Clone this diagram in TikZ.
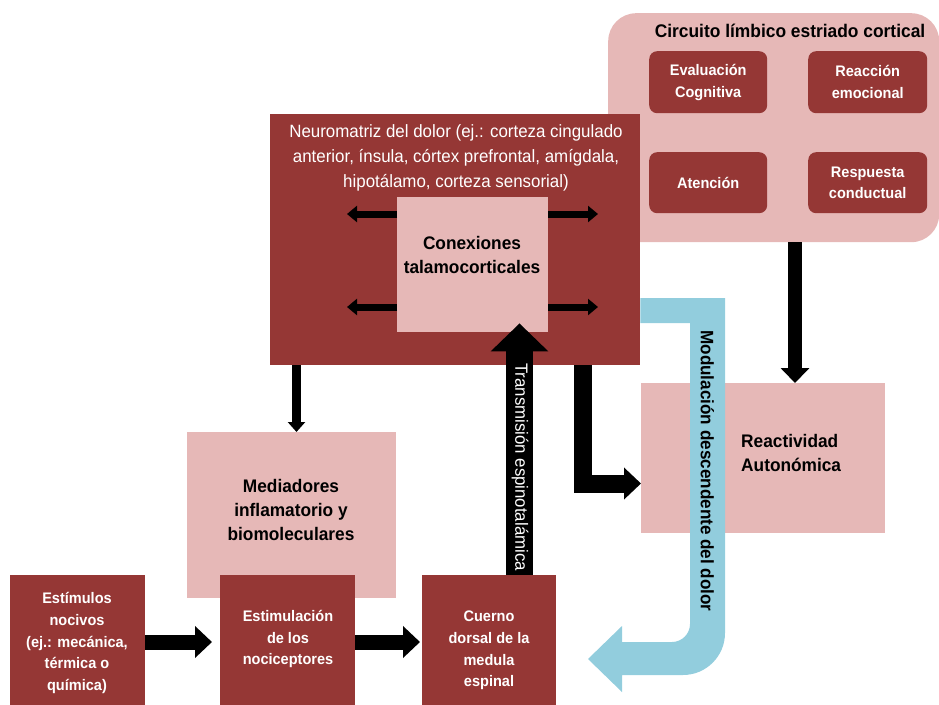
\documentclass[tikz,border=0pt]{standalone}
\usepackage{fontspec}
\setmainfont{Liberation Sans}[FakeStretch=0.95]
\usetikzlibrary{arrows.meta,calc}
\definecolor{dred}{RGB}{149,55,53}
\definecolor{lpink}{RGB}{230,184,183}
\definecolor{lblue}{RGB}{146,205,221}
\begin{document}
\begin{tikzpicture}[x=1pt,y=-1pt,
  dbox/.style={fill=dred, draw=none, inner sep=0pt, anchor=north west},
  pbox/.style={fill=lpink, draw=none, inner sep=0pt, anchor=north west},
  wtxt/.style={text=white, font=\bfseries\fontsize{15.3}{21.7}\selectfont, align=center, inner sep=0pt},
  btxt/.style={text=black, font=\bfseries\fontsize{18.2}{24}\selectfont, align=center, inner sep=0pt},
  bigarrow/.style={draw=black, line width=15pt, -{Triangle[length=17pt,width=31pt]}},
  smallarrow/.style={draw=black, line width=7pt, -{Triangle[length=10pt,width=16pt]}}]
\useasboundingbox (0,0) rectangle (939,704);
% limbic circuit
\node[pbox, rounded corners=28pt, minimum width=331pt, minimum height=229pt] (limb) at (608,13) {};
\node[text=black, font=\bfseries\fontsize{18.3}{22}\selectfont, inner sep=0pt] (limbt) at (790,31) {Circuito límbico estriado cortical};
\node[dbox, rounded corners=8pt, minimum width=118pt, minimum height=62pt] (eval) at (649,51) {};
\node[wtxt] (evalt) at (eval.center) {Evaluación\\Cognitiva};
\node[dbox, rounded corners=8pt, minimum width=119pt, minimum height=62pt] (reac) at (808,51) {};
\node[wtxt] (react) at (reac.center) {Reacción\\emocional};
\node[dbox, rounded corners=8pt, minimum width=118pt, minimum height=61pt] (aten) at (649,152) {};
\node[wtxt] (atent) at (aten.center) {Atención};
\node[dbox, rounded corners=8pt, minimum width=119pt, minimum height=61pt] (resp) at (808,152) {};
\node[wtxt] (respt) at (resp.center) {Respuesta\\conductual};
% neuromatrix
\node[dbox, minimum width=370pt, minimum height=251pt] (neuro) at (270,114) {};
\node[text=white, font=\fontsize{17.8}{25}\selectfont, align=center, inner sep=0pt] (neurot) at (456,158) {Neuromatriz del dolor (ej.: corteza cingulado\\anterior, ínsula, córtex prefrontal, amígdala,\\hipotálamo, corteza sensorial)};
\node[pbox, minimum width=151pt, minimum height=135pt] (conex) at (397,197) {};
\node[btxt] (conext) at (472,255) {Conexiones\\talamocorticales};
\coordinate (la) at (347,214);
\coordinate (lb) at (347,307);
\coordinate (ra) at (598,214);
\coordinate (rb) at (598,307);
\draw[smallarrow] (conex.west |- la) -- (la);
\draw[smallarrow] (conex.west |- lb) -- (lb);
\draw[smallarrow] (conex.east |- ra) -- (ra);
\draw[smallarrow] (conex.east |- rb) -- (rb);
% mediators
\node[pbox, minimum width=209pt, minimum height=166pt] (med) at (187,432) {};
\node[btxt] (medt) at (291,510) {Mediadores\\inflamatorio y\\biomoleculares};
% reactivity
\node[pbox, minimum width=244pt, minimum height=150pt] (react) at (641,383) {};
\node[btxt, align=left, anchor=west] (reactt) at (741,453) {Reactividad\\Autonómica};
% bottom row
\node[dbox, minimum width=135pt, minimum height=135pt] (est) at (10,575) {};
\node[wtxt] (estt) at (77,643) {Estímulos\\nocivos\\(ej.: mecánica,\\térmica o\\química)};
\node[dbox, minimum width=135pt, minimum height=135pt] (estim) at (220,575) {};
\node[wtxt] (estimt) at (288,639) {Estimulación\\de los\\nociceptores};
\node[dbox, minimum width=134pt, minimum height=135pt] (cuerno) at (422,575) {};
\node[wtxt] (cuernot) at (489,650.5) {Cuerno\\dorsal de la\\medula\\espinal};
% arrows bottom
\coordinate (ay) at (0,642);
\draw[bigarrow, shorten >=8pt] (est.east |- ay) -- (estim.west |- ay);
\draw[bigarrow, shorten >=2pt] (estim.east |- ay) -- (cuerno.west |- ay);
% transmission
\coordinate (tx) at (519.5,0);
\draw[draw=black, line width=27pt, -{Triangle[length=28pt,width=56pt]}, shorten >=-9pt] (cuerno.north -| tx) -- (conex.south -| tx);
\node[text=white, rotate=-90, font=\fontsize{17.7}{20}\selectfont, inner sep=0pt] (transt) at (520,467) {Transmisión espinotalámica};
% neuro -> mediators
\coordinate (mx) at (296.5,0);
\draw[draw=black, line width=9pt, -{Triangle[length=10pt,width=17pt]}] (neuro.south -| mx) -- (med.north -| mx);
% neuro -> reactivity (elbow)
\coordinate (ex) at (582.5,0);
\coordinate (ey) at (0,483.5);
\draw[draw=black, line width=18pt, -{Triangle[length=17pt,width=31pt]}] (neuro.south -| ex) |- (react.west |- ey);
% limbic -> reactivity
\coordinate (lx) at (795,0);
\draw[draw=black, line width=14pt, -{Triangle[length=15pt,width=28pt]}] (limb.south -| lx) -- (react.north -| lx);
% descending modulation
\fill[lblue] (neuro.east |- 0,298) -- (725,298) -- (725,633) .. controls (725,656.2) and (706.2,675) .. (683,675) -- (622,675) -- (622,692) -- (588,659) -- (622,626) -- (622,642) -- (672,642) .. controls (681.9,642) and (690,633.9) .. (690,624) -- (690,323) -- (neuro.east |- 0,323) -- cycle;
\node[text=black, rotate=-90, font=\bfseries\fontsize{18}{20}\selectfont, inner sep=0pt] (modt) at (707.5,471) {Modulación descendente del dolor};
\end{tikzpicture}
\end{document}
